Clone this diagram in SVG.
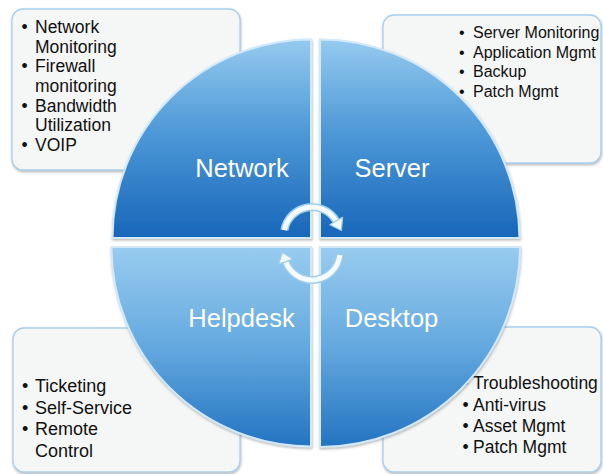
<svg xmlns="http://www.w3.org/2000/svg" width="603" height="474" viewBox="0 0 603 474">
<defs>
<linearGradient id="gTop" x1="0" y1="40" x2="0" y2="238" gradientUnits="userSpaceOnUse">
<stop offset="0" stop-color="#95caee"/>
<stop offset="0.45" stop-color="#4f9ad8"/>
<stop offset="1" stop-color="#1866b9"/>
</linearGradient>
<linearGradient id="gBot" x1="0" y1="247" x2="0" y2="446" gradientUnits="userSpaceOnUse">
<stop offset="0" stop-color="#98ccef"/>
<stop offset="0.5" stop-color="#64a9df"/>
<stop offset="1" stop-color="#2474c2"/>
</linearGradient>
<filter id="sh" x="-10%" y="-10%" width="120%" height="120%">
<feDropShadow dx="0.5" dy="1.5" stdDeviation="1" flood-color="#666" flood-opacity="0.45"/>
</filter>
</defs>
<style>
.box{fill:#f5f6f6;stroke:#a9cfec;stroke-width:1.3;filter:url(#sh)}
.quad{stroke:#d2e9f9;stroke-width:2;filter:url(#sh)}
.t{font-family:"Liberation Sans",Arial,sans-serif;fill:#111}
.lbl{font-family:"Liberation Sans",Arial,sans-serif;fill:#fff;font-size:25.5px;text-anchor:middle}
.arcO{fill:none;stroke:#9fcdec;stroke-width:8}
.arcI{fill:none;stroke:#f6fbfe;stroke-width:5}
.head{fill:#f6fbfe;stroke:#9fcdec;stroke-width:1.2;stroke-linejoin:round}
</style>
<rect width="603" height="474" fill="#ffffff"/>

<g id="box-network">
<rect class="box" x="12" y="9" width="228" height="161" rx="11"/>
<g class="t" font-size="17.5">
<text x="21.5" y="33">•</text><text x="35" y="33">Network</text>
<text x="35" y="52.5">Monitoring</text>
<text x="21.5" y="72">•</text><text x="35" y="72">Firewall</text>
<text x="35" y="91.5">monitoring</text>
<text x="21.5" y="111.5">•</text><text x="35" y="111.5">Bandwidth</text>
<text x="35" y="131">Utilization</text>
<text x="21.5" y="151">•</text><text x="35" y="151">VOIP</text>
</g>
</g>

<g id="box-server">
<rect class="box" x="383" y="15" width="218" height="148" rx="11"/>
<g class="t" font-size="16">
<text x="459" y="38">•</text><text x="473" y="38">Server Monitoring</text>
<text x="459" y="57.5">•</text><text x="473" y="57.5">Application Mgmt</text>
<text x="459" y="77">•</text><text x="473" y="77">Backup</text>
<text x="459" y="96.5">•</text><text x="473" y="96.5">Patch Mgmt</text>
</g>
</g>

<g id="box-helpdesk">
<rect class="box" x="13" y="328" width="227" height="144" rx="11"/>
<g class="t" font-size="18">
<text x="22" y="392">•</text><text x="35" y="392">Ticketing</text>
<text x="22" y="413.5">•</text><text x="35" y="413.5">Self-Service</text>
<text x="22" y="435">•</text><text x="35" y="435">Remote</text>
<text x="35" y="457">Control</text>
</g>
</g>

<g id="box-desktop">
<rect class="box" x="383" y="327" width="218" height="145" rx="11"/>
<g class="t" font-size="17.5">
<text x="462.5" y="389">•</text><text x="473" y="389">Troubleshooting</text>
<text x="462.5" y="410.5">•</text><text x="473" y="410.5">Anti-virus</text>
<text x="462.5" y="432">•</text><text x="473" y="432">Asset Mgmt</text>
<text x="462.5" y="453">•</text><text x="473" y="453">Patch Mgmt</text>
</g>
</g>

<g id="network">
<path class="quad" fill="url(#gTop)" d="M311 238 L112.5 238 A198.5 198.5 0 0 1 311 39.5 Z"/>
<text class="lbl" x="242" y="176.5">Network</text>
</g>
<g id="server">
<path class="quad" fill="url(#gTop)" d="M320 238 L320 39.5 A199.5 199.5 0 0 1 519.5 238 Z"/>
<text class="lbl" x="392" y="176.5">Server</text>
</g>
<g id="helpdesk">
<path class="quad" fill="url(#gBot)" d="M311 247 L311 446.5 A199.5 199.5 0 0 1 111.5 247 Z"/>
<text class="lbl" x="241.5" y="326.5">Helpdesk</text>
</g>
<g id="desktop">
<path class="quad" fill="url(#gBot)" d="M320 247 L520 247 A200 200 0 0 1 320 447 Z"/>
<text class="lbl" x="391.5" y="326.5">Desktop</text>
</g>

<g id="connectors">
<path class="arcO" d="M284.4 230.1 A28 28 0 0 1 336.2 221"/>
<path class="arcI" d="M284.4 230.1 A28 28 0 0 1 336.2 221"/>
<polygon class="head" points="342.6,217.3 329.8,224.7 341.4,230.5"/>
<path class="arcO" d="M339.8 254.9 A28 28 0 0 1 285.7 261.6"/>
<path class="arcI" d="M339.8 254.9 A28 28 0 0 1 285.7 261.6"/>
<polygon class="head" points="292.7,259.1 278.7,264.1 282.4,252.4"/>
</g>
</svg>
